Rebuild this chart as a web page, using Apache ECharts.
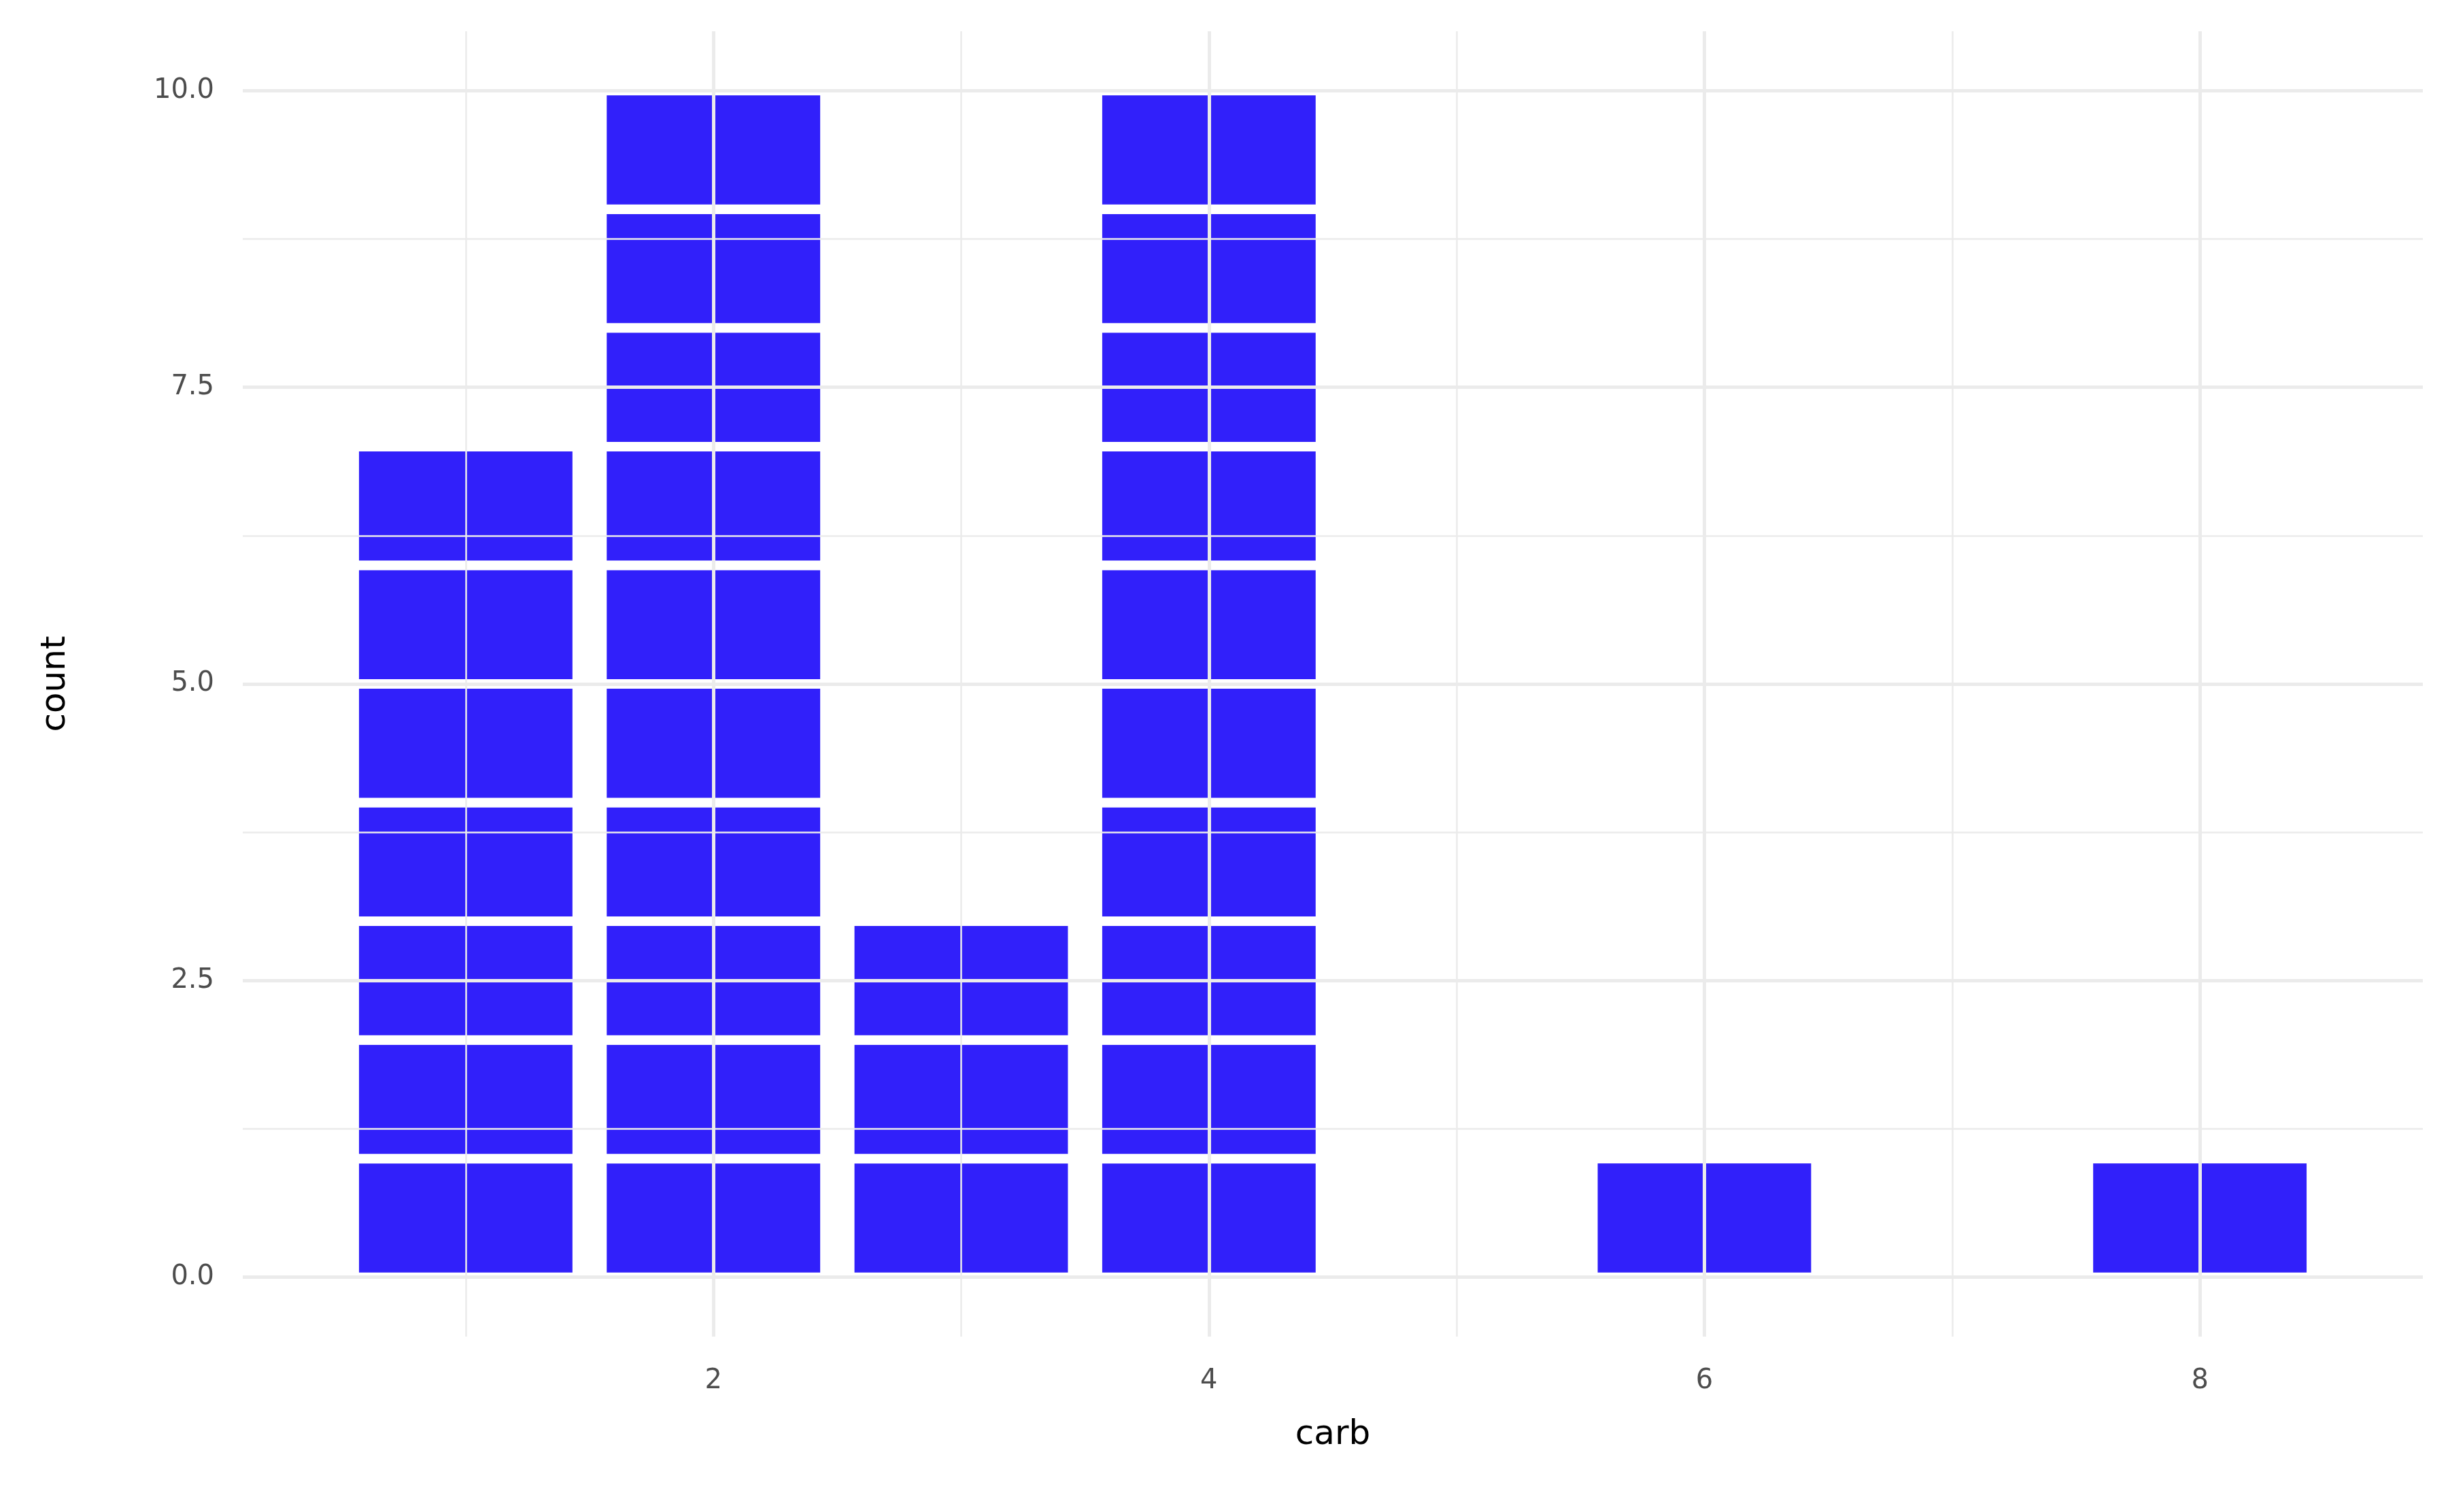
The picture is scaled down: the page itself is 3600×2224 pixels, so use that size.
<!DOCTYPE html>
<html>
<head>
<meta charset="utf-8">
<script src="https://cdn.jsdelivr.net/npm/echarts@6/dist/echarts.min.js"></script>
<style>html,body{margin:0;background:#fff}#chart{width:3600px;height:2224px}</style>
</head>
<body>
<div id="chart"></div>
<script>
var carbValues = [1, 2, 3, 4, 6, 8];
var carbCounts = [7, 10, 3, 10, 1, 1];
var xTickLabels = [2, 4, 6, 8];
var xMinorLines = [1, 3, 5, 7];
var yTickLabels = [0, 2.5, 5, 7.5, 10];
var yMinorLines = [1.25, 3.75, 6.25, 8.75];

// one block per counted car
var blocks = [];
carbValues.forEach(function (c, i) {
    for (var k = 0; k < carbCounts[i]; k++) blocks.push([c, k]);
});

function lines(axis, vals, w) {
    return vals.map(function (v) {
        var o = {lineStyle: {width: w}};
        o[axis] = v;
        return o;
    });
}

var gridLines = []
    .concat(lines('xAxis', xTickLabels, 5))
    .concat(lines('xAxis', xMinorLines, 2.5))
    .concat(lines('yAxis', yTickLabels, 5))
    .concat(lines('yAxis', yMinorLines, 2.5));

var myChart = echarts.init(document.getElementById('chart'));
myChart.setOption({
    backgroundColor: '#fff',
    animation: false,
    grid: {left: 357, right: 37, top: 46, bottom: 258},
    xAxis: {
        type: 'value', min: 0.1, max: 8.9,
        name: 'carb', nameLocation: 'middle', nameGap: 120,
        nameTextStyle: {fontSize: 50, color: '#000', fontFamily: 'DejaVu Sans'},
        axisLine: {show: false}, axisTick: {show: false}, splitLine: {show: false},
        axisLabel: {customValues: xTickLabels, fontSize: 40, color: '#4D4D4D', margin: 46, fontFamily: 'DejaVu Sans'}
    },
    yAxis: {
        type: 'value', min: -0.5, max: 10.5,
        name: 'count', nameLocation: 'middle', nameGap: 250,
        nameTextStyle: {fontSize: 50, color: '#000', fontFamily: 'DejaVu Sans'},
        axisLine: {show: false}, axisTick: {show: false}, splitLine: {show: false},
        axisLabel: {
            customValues: yTickLabels, fontSize: 40, color: '#4D4D4D', margin: 42, fontFamily: 'DejaVu Sans',
            formatter: function (v) { return v.toFixed(1); }
        }
    },
    series: [
        {
            type: 'line', data: [], z: 1, silent: true,
            markLine: {
                silent: true, symbol: 'none', label: {show: false},
                lineStyle: {color: '#EBEBEB', type: 'solid'},
                data: gridLines
            }
        },
        {
            type: 'custom', z: 2, data: blocks,
            renderItem: function (params, api) {
                var c = api.value(0), k = api.value(1);
                var p0 = api.coord([c - 0.45, k + 1]);
                var p1 = api.coord([c + 0.45, k]);
                return {
                    type: 'rect',
                    shape: {x: p0[0], y: p0[1], width: p1[0] - p0[0], height: p1[1] - p0[1]},
                    style: {fill: '#3120FA', stroke: '#fff', lineWidth: 14}
                };
            }
        }
    ]
});
</script>
</body>
</html>
